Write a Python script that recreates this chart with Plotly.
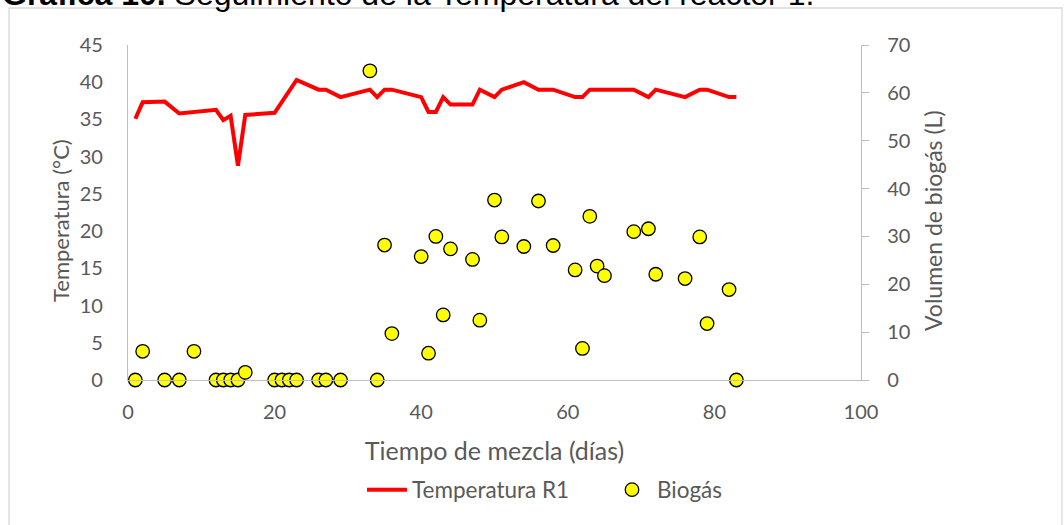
import plotly.graph_objects as go

# Temperature record for reactor R1 (days of mixing, °C)
temp_days = [1, 2, 5, 7, 12, 13, 14, 15, 16, 20, 23, 26, 27, 29, 33, 34, 35, 36,
             40, 41, 42, 43, 44, 47, 48, 50, 51, 54, 56, 58, 61, 62, 63, 69, 71,
             72, 76, 78, 79, 82, 83]
temp_values = [35.1, 37.3, 37.4, 35.8, 36.3, 34.9, 35.5, 28.8, 35.6, 35.9, 40.3,
               39.0, 39.0, 38.0, 39.0, 38.0, 39.0, 39.0, 38.0, 36.0, 36.0, 38.0,
               37.0, 37.0, 39.0, 38.0, 39.0, 40.0, 39.0, 39.0, 38.0, 38.0, 39.0,
               39.0, 38.0, 39.0, 38.0, 39.0, 39.0, 38.0, 38.0]

# Biogas volume measured (days of mixing, litres)
gas_days = [1, 2, 5, 7, 9, 12, 13, 14, 15, 16, 20, 21, 22, 23, 26, 27, 29, 33,
            34, 35, 36, 40, 41, 42, 43, 44, 47, 48, 50, 51, 54, 56, 58, 61, 62,
            63, 64, 65, 69, 71, 72, 76, 78, 79, 82, 83]
gas_values = [0, 6.0, 0, 0, 6.0, 0, 0, 0, 0, 1.6, 0, 0, 0, 0, 0, 0, 0, 64.6,
              0, 28.2, 9.7, 25.8, 5.6, 30.0, 13.6, 27.4, 25.2, 12.5, 37.6, 29.9,
              27.9, 37.4, 28.1, 23.0, 6.6, 34.2, 23.8, 21.8, 31.0, 31.6, 22.1,
              21.2, 29.9, 11.8, 18.9, 0]

x_ticks = [0, 20, 40, 60, 80, 100]
left_ticks = [0, 5, 10, 15, 20, 25, 30, 35, 40, 45]
right_ticks = [0, 10, 20, 30, 40, 50, 60, 70]

TEXT = "#595959"
AXIS = "#bfbfbf"
FONT = "Lato"

# plot area in pixels: x 128..861, y 45..380
W, H = 1064, 525
L, R, T, B = 128, 203, 45, 145
PW, PH = W - L - R, H - T - B


def px_x(px):
    return (px - L) / PW


def px_y(py):
    return (H - B - py) / PH


fig = go.Figure()
fig.add_trace(go.Scatter(
    x=temp_days, y=temp_values, name="Temperatura R1", mode="lines",
    line=dict(color="#ff0000", width=4), yaxis="y", cliponaxis=False,
))
fig.add_trace(go.Scatter(
    x=gas_days, y=gas_values, name="Biogás", mode="markers",
    marker=dict(color="#ffff00", size=13.5, line=dict(color="#000000", width=1.3)),
    yaxis="y2", cliponaxis=False,
))

fig.update_layout(
    width=W, height=H,
    margin=dict(l=L, r=R, t=T, b=B),
    paper_bgcolor="white", plot_bgcolor="white",
    font=dict(family=FONT, color=TEXT, size=20),
    showlegend=True,
    legend=dict(orientation="h", x=px_x(362), xanchor="left",
                y=px_y(490), yanchor="middle",
                font=dict(family=FONT, size=22.5, color=TEXT), itemwidth=40,
                entrywidth=190, traceorder="normal"),
    xaxis=dict(
        range=[0, 100], tickvals=x_ticks, showgrid=False, zeroline=False,
        showline=True, linecolor=AXIS, linewidth=1.3, ticks="",
        tickfont=dict(family=FONT, size=20, color=TEXT), ticklabelstandoff=14,
        title=dict(text="Tiempo de mezcla (días)",
                   font=dict(family=FONT, size=25, color=TEXT), standoff=20),
    ),
    yaxis=dict(
        range=[0, 45], tickvals=left_ticks, showgrid=False, zeroline=False,
        showline=True, linecolor=AXIS, linewidth=1.3, ticks="",
        tickfont=dict(family=FONT, size=20, color=TEXT), ticklabelstandoff=20,
    ),
    yaxis2=dict(
        range=[0, 70], tickvals=right_ticks, overlaying="y", side="right",
        showgrid=False, zeroline=False, showline=True, linecolor=AXIS,
        linewidth=1.3, ticks="outside", ticklen=7, tickcolor=AXIS, tickwidth=1.3,
        tickfont=dict(family=FONT, size=20, color=TEXT), ticklabelstandoff=14,
    ),
)

# Vertical axis titles
fig.add_annotation(
    xref="paper", yref="paper", x=px_x(60), y=px_y(221),
    xanchor="center", yanchor="middle", showarrow=False, textangle=-90,
    text="Temperatura (°C)", font=dict(family=FONT, size=22, color=TEXT),
)
fig.add_annotation(
    xref="paper", yref="paper", x=px_x(933), y=px_y(221),
    xanchor="center", yanchor="middle", showarrow=False, textangle=-90,
    text="Volumen de biogás (L)", font=dict(family=FONT, size=23, color=TEXT),
)

# Outer chart frame
fig.add_shape(type="rect", xref="paper", yref="paper",
              x0=px_x(9), x1=px_x(1062), y0=px_y(540), y1=px_y(8),
              line=dict(color="#d9d9d9", width=1.3), fillcolor="rgba(0,0,0,0)",
              layer="below")

# Caption above the frame
fig.add_annotation(
    xref="paper", yref="paper", x=px_x(0), y=px_y(14),
    xanchor="left", yanchor="bottom", showarrow=False,
    text="<b>Gráfica 10.</b> Seguimiento de la Temperatura del reactor 1.",
    font=dict(family="Liberation Sans", size=32, color="#000000"),
)

fig.write_html("out.html")
